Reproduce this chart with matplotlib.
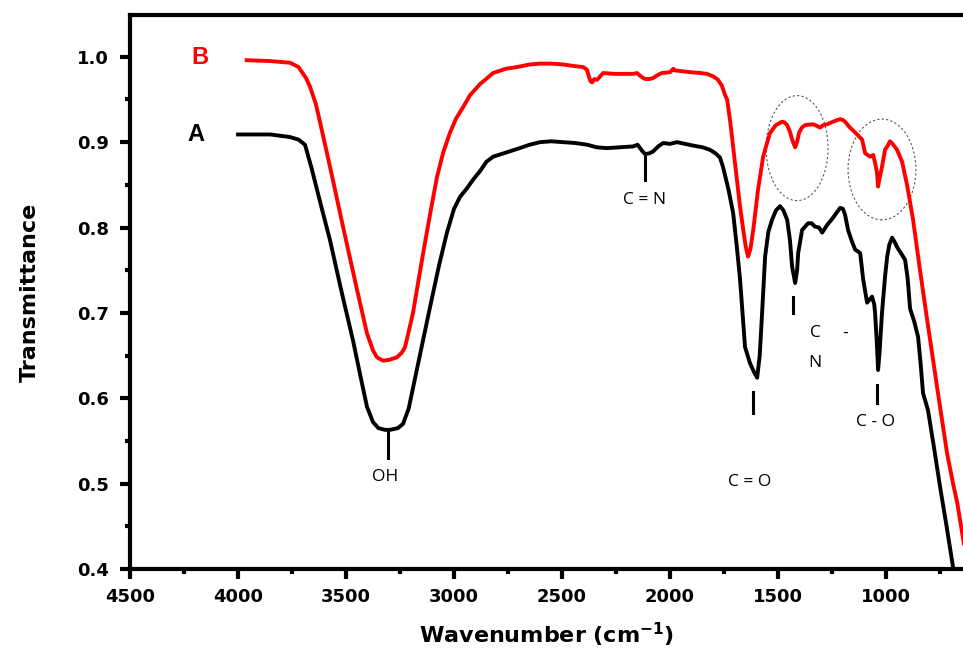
import matplotlib.pyplot as plt
from matplotlib.patches import Ellipse
from matplotlib.ticker import MultipleLocator
import numpy as np

# FTIR spectra, wavenumber (cm-1) vs transmittance
wn_a = [4000, 3850, 3760, 3720, 3690, 3660, 3620, 3574, 3520, 3468, 3430, 3403,
        3375, 3350, 3320, 3296, 3260, 3236, 3210, 3190, 3150, 3111, 3070, 3033,
        3000, 2972, 2940, 2912, 2880, 2850, 2819, 2770, 2708, 2650, 2602, 2550,
        2495, 2440, 2384, 2340, 2292, 2230, 2171, 2150, 2130, 2116, 2095, 2079,
        2055, 2032, 2000, 1968, 1930, 1894, 1850, 1815, 1790, 1769, 1755, 1730,
        1708, 1690, 1676, 1653, 1630, 1610, 1597, 1585, 1574, 1560, 1545, 1528,
        1510, 1491, 1475, 1458, 1445, 1435, 1421, 1412, 1407, 1389, 1361, 1345,
        1329, 1310, 1296, 1273, 1250, 1227, 1213, 1200, 1190, 1176, 1160, 1143,
        1130, 1120, 1106, 1088, 1075, 1065, 1055, 1051, 1044, 1037, 1030, 1019,
        1005, 995, 985, 972, 960, 949, 926, 912, 900, 889, 870, 852, 840, 829,
        806, 780, 750, 720, 690, 680]
tr_a = [0.909, 0.909, 0.906, 0.903, 0.897, 0.870, 0.830, 0.785, 0.724, 0.668, 0.622, 0.590,
        0.572, 0.565, 0.563, 0.563, 0.565, 0.570, 0.588, 0.612, 0.660, 0.707, 0.755, 0.794,
        0.822, 0.836, 0.846, 0.856, 0.866, 0.877, 0.883, 0.887, 0.892, 0.897, 0.900, 0.901,
        0.900, 0.899, 0.897, 0.894, 0.893, 0.894, 0.895, 0.897, 0.890, 0.886, 0.887, 0.889,
        0.895, 0.899, 0.898, 0.900, 0.898, 0.896, 0.894, 0.891, 0.887, 0.882, 0.871, 0.845,
        0.817, 0.775, 0.739, 0.660, 0.641, 0.630, 0.624, 0.650, 0.700, 0.766, 0.795, 0.809,
        0.820, 0.825, 0.820, 0.809, 0.785, 0.754, 0.735, 0.750, 0.770, 0.797, 0.805, 0.805,
        0.801, 0.800, 0.794, 0.803, 0.810, 0.818, 0.823, 0.822, 0.815, 0.797, 0.785, 0.774,
        0.772, 0.770, 0.739, 0.712, 0.716, 0.719, 0.710, 0.700, 0.670, 0.633, 0.655, 0.700,
        0.742, 0.766, 0.780, 0.788, 0.783, 0.777, 0.768, 0.762, 0.740, 0.705, 0.690, 0.672, 0.640, 0.606,
        0.586, 0.545, 0.496, 0.450, 0.402, 0.388]

wn_b = [3960, 3850, 3759, 3720, 3704, 3685, 3667, 3640, 3620, 3574, 3514, 3449,
        3403, 3375, 3357, 3329, 3300, 3264, 3240, 3227, 3210, 3190, 3143, 3110,
        3079, 3050, 3019, 2990, 2958, 2926, 2880, 2819, 2760, 2708, 2650, 2602,
        2550, 2495, 2440, 2403, 2385, 2370, 2361, 2350, 2338, 2320, 2310, 2260,
        2218, 2170, 2153, 2135, 2116, 2095, 2079, 2055, 2037, 2000, 1985, 1977,
        1940, 1907, 1860, 1829, 1800, 1778, 1760, 1745, 1736, 1722, 1708, 1690,
        1676, 1660, 1650, 1639, 1628, 1615, 1593, 1569, 1550, 1537, 1510, 1481,
        1470, 1458, 1445, 1435, 1421, 1412, 1403, 1390, 1375, 1338, 1320, 1306,
        1290, 1273, 1245, 1225, 1213, 1200, 1190, 1167, 1150, 1134, 1111, 1097,
        1074, 1060, 1050, 1042, 1037, 1030, 1019, 1005, 990, 982, 970, 949,
        926, 903, 875, 843, 810, 764, 718, 690, 671, 650, 640]
tr_b = [0.996, 0.995, 0.993, 0.988, 0.982, 0.975, 0.965, 0.945, 0.923, 0.871, 0.801, 0.727,
        0.676, 0.656, 0.648, 0.644, 0.645, 0.648, 0.654, 0.660, 0.678, 0.700, 0.770, 0.817,
        0.859, 0.888, 0.911, 0.928, 0.941, 0.955, 0.968, 0.981, 0.986, 0.988, 0.991, 0.992,
        0.992, 0.991, 0.989, 0.988, 0.985, 0.972, 0.970, 0.974, 0.973, 0.978, 0.981, 0.980,
        0.980, 0.980, 0.981, 0.977, 0.974, 0.974, 0.975, 0.979, 0.981, 0.982, 0.986, 0.984,
        0.983, 0.982, 0.981, 0.980, 0.977, 0.973, 0.966, 0.955, 0.950, 0.925, 0.894, 0.855,
        0.824, 0.795, 0.778, 0.766, 0.775, 0.797, 0.844, 0.883, 0.900, 0.911, 0.920, 0.924,
        0.923, 0.920, 0.912, 0.903, 0.894, 0.900, 0.911, 0.917, 0.920, 0.921, 0.919, 0.917,
        0.920, 0.921, 0.924, 0.926, 0.927, 0.926, 0.924, 0.917, 0.913, 0.909, 0.903, 0.887,
        0.883, 0.885, 0.875, 0.864, 0.848, 0.858, 0.871, 0.891, 0.897, 0.901, 0.898, 0.891,
        0.877, 0.850, 0.809, 0.750, 0.692, 0.613, 0.536, 0.500, 0.478, 0.445, 0.430]

# band assignments: (position, marker bottom, marker top)
band_marks = [(3305, 0.530, 0.563), (2116, 0.856, 0.883), (1616, 0.583, 0.607),
              (1431, 0.700, 0.719), (1042, 0.594, 0.615)]
band_labels = [("OH", 3320, 0.508), ("C = N", 2116, 0.832), ("C = O", 1630, 0.502),
               ("C - O", 1051, 0.572), ("C", 1329, 0.676), ("-", 1190, 0.676),
               ("N", 1329, 0.641)]

fig = plt.figure(figsize=(9.63, 6.59), dpi=100)
ax = fig.add_axes([0.135, 0.1366, 0.865, 0.8407])

ax.plot(wn_a, tr_a, color='black', lw=2.8, solid_joinstyle='round')
ax.plot(wn_b, tr_b, color='red', lw=2.8, solid_joinstyle='round')

ax.text(4195, 0.909, 'A', color='black', fontsize=17, fontweight='bold',
        family='Liberation Sans', ha='center', va='center')
ax.text(4178, 0.999, 'B', color='red', fontsize=17, fontweight='bold',
        family='Liberation Sans', ha='center', va='center')

for x, y0, y1 in band_marks:
    ax.plot([x, x], [y0, y1], color='black', lw=2.2)
for s, x, y in band_labels:
    ax.text(x, y, s, fontsize=12.5, family='Open Sans', ha='center', va='center')

# dotted circles round the changed bands
for xc, yc, w, h in [(1412, 0.893, 287, 0.123), (1019, 0.868, 314, 0.118)]:
    ax.add_patch(Ellipse((xc, yc), w, h, fill=False, ls=(0, (2, 2)),
                         lw=0.8, edgecolor='#555555'))

ax.set_xlim(4500, 644)
ax.set_ylim(0.4, 1.049)
ax.xaxis.set_major_locator(MultipleLocator(500))
ax.xaxis.set_minor_locator(MultipleLocator(250))
ax.yaxis.set_major_locator(MultipleLocator(0.1))
ax.yaxis.set_minor_locator(MultipleLocator(0.05))
ax.yaxis.set_major_formatter(plt.FormatStrFormatter('%.1f'))

for side in ['left', 'bottom', 'top']:
    ax.spines[side].set_linewidth(3)
ax.spines['right'].set_visible(False)
ax.tick_params(which='major', direction='out', length=7, width=3)
ax.tick_params(axis='y', which='major', pad=8)
ax.tick_params(axis='x', which='major', pad=7)
ax.tick_params(which='minor', direction='out', length=3.5, width=3)
for lab in ax.get_xticklabels() + ax.get_yticklabels():
    lab.set_family('DejaVu Sans')
    lab.set_fontweight('bold')
    lab.set_fontsize(13)

ax.set_xlabel('Wavenumber (cm$^{\\mathbf{-1}}$)', fontsize=16, fontweight='bold',
              family='DejaVu Sans', labelpad=10)
ax.set_ylabel('Transmittance', fontsize=16, fontweight='bold',
              family='DejaVu Sans', labelpad=27)

fig.savefig('out.png', dpi=100)
